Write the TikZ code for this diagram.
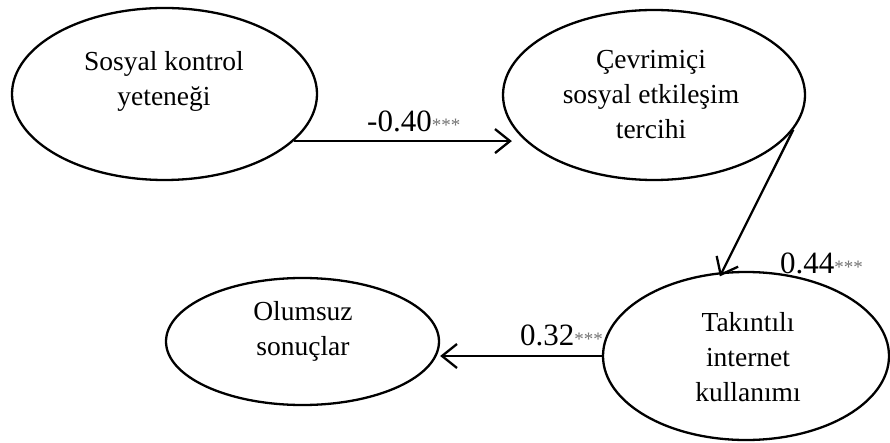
\documentclass[tikz,border=0pt]{standalone}
\usepackage{fontspec}
\setmainfont{Liberation Serif}
\usetikzlibrary{shapes.geometric, arrows.meta, positioning}

\newcommand{\yildiz}{\textcolor{black!55}{\fontsize{19}{19}\selectfont ***}}

\begin{document}
\begin{tikzpicture}[x=1pt, y=-1pt,
		konstrukt/.style={ellipse, draw, line width=2.3pt, inner sep=0pt},
		yazi/.style={align=center, font=\fontsize{27.5}{35}\selectfont},
		katsayi/.style={anchor=base west, inner sep=0pt, font=\fontsize{31}{31}\selectfont},
		yol/.style={line width=2.3pt, -{Straight Barb[length=15pt, width=24pt]}}]
	\useasboundingbox (0,0) rectangle (890,443);
	% latent variables
	\node[konstrukt, minimum width=305pt, minimum height=172pt] (kontrol) at (164.5,94) {};
	\node[konstrukt, minimum width=302pt, minimum height=170pt] (tercih) at (654,95) {};
	\node[konstrukt, minimum width=286pt, minimum height=168pt] (takinti) at (746,356) {};
	\node[konstrukt, minimum width=273pt, minimum height=127pt] (olumsuz) at (302.5,341.5) {};
	% names
	\node[yazi] (kontrolYazi) at (164,81) {Sosyal kontrol\\yeteneği};
	\node[yazi] (tercihYazi) at (651,95) {Çevrimiçi\\sosyal etkileşim\\tercihi};
	\node[yazi] (takintiYazi) at (748,357) {Takıntılı\\internet\\kullanımı};
	\node[yazi] (olumsuzYazi) at (303,331) {Olumsuz\\sonuçlar};
	% paths
	\draw[yol] (kontrol.-20) -- ([xshift=10pt]kontrol.-20 -| tercih.west);
	\draw[yol] (tercih.-14) -- ([shift={(1pt,-4pt)}]takinti.108);
	\draw[yol] (takinti.west) -- (takinti.west -| olumsuz.east);
	% coefficients
	\node[katsayi] (k1) at (367,132) {-0.40\yildiz};
	\node[katsayi] (k2) at (780,273) {0.44\yildiz};
	\node[katsayi] (k3) at (520,345) {0.32\yildiz};
\end{tikzpicture}
\end{document}
